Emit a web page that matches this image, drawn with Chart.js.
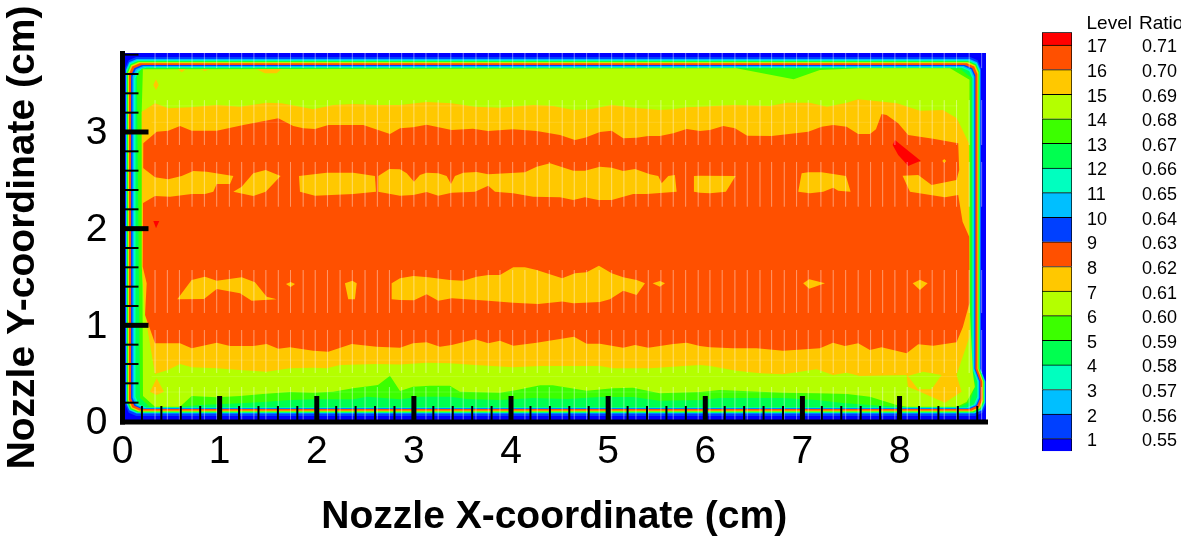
<!DOCTYPE html>
<html><head><meta charset="utf-8">
<style>html,body{margin:0;padding:0;background:#fff;overflow:hidden}canvas{position:absolute;display:block}</style>
<script src="https://cdn.jsdelivr.net/npm/chart.js@4"></script></head>
<body>
<canvas id="main" width="1181" height="538" style="left:0;top:0"></canvas>
<canvas id="key" width="139" height="480" style="left:1042px;top:0"></canvas>
<script>
// ---------- axis data ----------
const xMajorTicks=[0,1,2,3,4,5,6,7,8];
const yMajorTicks=[0,1,2,3];
const xMinorTicks=[0.2,0.4,0.6,0.8,1.2,1.4,1.6,1.8,2.2,2.4,2.6,2.8,3.2,3.4,3.6,3.8,4.2,4.4,4.6,4.8,5.2,5.4,5.6,5.8,6.2,6.4,6.6,6.8,7.2,7.4,7.6,7.8,8.2,8.4,8.6,8.8];
const yMinorTicks=[0.2,0.4,0.6,0.8,1.2,1.4,1.6,1.8,2.2,2.4,2.6,2.8,3.2,3.4,3.6,3.8];
const xMax=8.89, yMax=3.817;
// ---------- legend data ----------
const levelNumbers=[1,2,3,4,5,6,7,8,9,10,11,12,13,14,15,16,17];
const levelRatios=[0.55,0.56,0.57,0.58,0.59,0.60,0.61,0.62,0.63,0.64,0.65,0.66,0.67,0.68,0.69,0.70,0.71];
const keyColours=['#0000ff','#0040ff','#00bfff','#00ffbf','#00ff50','#3cff00','#b4ff00','#ffc800','#ff5000','#0040ff','#00bfff','#00ffbf','#00ff50','#3cff00','#b4ff00','#ffc800','#ff5000','#ff0000'];
// ---------- wall rings (cm): outer to inner contour levels ----------
const ringColours=['#0040ff','#00bfff','#00ffbf','#00ff50','#3cff00','#b4ff00','#ffc800','#ff5000','#0040ff','#00bfff','#00ffbf','#00ff50'];
const ringLeft=[.031,.036,.041,.046,.051,.057,.062,.067,.088,.103,.118,.134];
const ringRight=[8.837,8.832,8.827,8.822,8.817,8.812,8.807,8.801,8.781,8.771,8.761,8.75];
const ringBottom=[.062,.088,.093,.098,.103,.109,.114,.119,.134,.14,.145,.15];
const ringTop=[3.776,3.755,3.745,3.734,3.729,3.724,3.717,3.71,3.693,3.683,3.672,3.665];
// ---------- contour bands (cm) ----------
const greenBand=[[.149,3.589],[.2,3.657],[8.62,3.657],[8.74,3.558],[8.74,.507],[8.78,.383],[8.724,.207],[8.62,.155],[8,.155],[7.695,.176],[7.417,.197],[7.15,.228],[6.8,.248],[6.15,.248],[5.945,.228],[5.53,.22],[5.255,.259],[4.915,.259],[4.576,.238],[4.226,.248],[3.886,.228],[3.546,.238],[3.37,.262],[3.06,.262],[2.857,.235],[2.517,.262],[2.373,.235],[1.96,.235],[1.724,.228],[1.488,.21],[1.21,.193],[.798,.176],[.592,.155],[.283,.155],[.18,.248]];
const limeBand=[[.21,3.65],[6.32,3.66],[6.91,3.545],[7.18,3.64],[7.59,3.66],[8.52,3.66],[8.72,3.54],[8.72,1.23],[8.755,.507],[8.775,.362],[8.69,.207],[8.59,.158],[8.08,.158],[7.97,.176],[7.695,.262],[7.46,.29],[7.15,.297],[6.8,.303],[6.33,.324],[6.15,.331],[5.945,.31],[5.53,.297],[5.255,.355],[5.05,.349],[4.78,.324],[4.43,.38],[4.3,.38],[4.06,.331],[3.886,.303],[3.474,.313],[3.37,.375],[3.165,.375],[2.99,.365],[2.857,.32],[2.754,.479],[2.63,.383],[2.373,.349],[2.167,.313],[1.96,.303],[1.724,.31],[1.446,.29],[1.21,.269],[.97,.256],[.712,.269],[.592,.158],[.335,.158],[.211,.269],[.198,3.227]];
const yellowBand=[[.198,3.21],[.335,3.297],[.471,3.245],[.695,3.255],[.97,3.279],[1.21,3.262],[1.484,3.303],[1.639,3.297],[1.964,3.235],[2.17,3.279],[2.376,3.289],[2.617,3.279],[2.857,3.279],[3.131,3.31],[3.389,3.297],[3.629,3.262],[3.886,3.251],[4.229,3.279],[4.432,3.269],[4.641,3.227],[4.812,3.235],[5.036,3.279],[5.258,3.251],[5.533,3.227],[5.67,3.235],[5.808,3.255],[5.945,3.262],[6.285,3.279],[6.665,3.269],[6.84,3.303],[7.077,3.303],[7.252,3.262],[7.458,3.303],[7.571,3.338],[7.973,3.297],[8.21,3.22],[8.446,3.227],[8.59,3.141],[8.714,2.883],[8.72,1.231],[8.72,.882],[8.587,.486],[8.639,.313],[8.467,.2],[8.21,.313],[8.086,.365],[8.073,.486],[7.592,.476],[7.455,.51],[7.314,.486],[7.146,.545],[6.8,.493],[6.563,.504],[6.323,.531],[6.048,.579],[5.945,.59],[5.667,.572],[5.43,.555],[5.049,.555],[4.915,.579],[4.298,.579],[4.02,.566],[3.629,.59],[3.371,.607],[3.131,.613],[2.857,.595],[2.617,.6],[2.239,.59],[2.102,.555],[1.961,.562],[1.724,.555],[1.484,.52],[1.21,.538],[.97,.555],[.712,.566],[.592,.6],[.468,.538],[.335,.497],[.232,1.107],[.198,1.606]];
const orangeBand=[[.214,2.883],[.352,3.003],[.471,3.013],[.592,3.062],[.712,3.013],[.97,3.013],[1.089,3.038],[1.244,3.072],[1.604,3.141],[1.758,3.062],[1.861,3.038],[1.982,3.031],[2.119,3.072],[2.479,3.072],[2.754,2.979],[2.857,3.038],[2.99,3.048],[3.131,3.075],[3.389,3.02],[3.608,3.034],[3.763,3.01],[4.02,3.028],[4.264,3.01],[4.504,2.969],[4.658,2.917],[4.761,2.941],[4.915,3],[5.036,3.013],[5.155,2.935],[5.293,2.941],[5.413,2.958],[5.533,2.958],[5.67,2.986],[5.808,3.031],[5.945,3.01],[6.048,3.02],[6.185,3.062],[6.305,3.038],[6.432,2.962],[6.683,2.958],[7.06,3.003],[7.197,3.055],[7.317,3.072],[7.455,3.055],[7.574,2.979],[7.695,2.979],[7.757,3.028],[7.815,3.186],[7.867,3.176],[7.986,3.09],[8.089,2.969],[8.346,2.93],[8.604,2.883],[8.614,2.607],[8.587,2.503],[8.33,2.452],[8.192,2.555],[8.031,2.548],[8.107,2.382],[8.467,2.324],[8.604,2.348],[8.649,2.072],[8.717,1.917],[8.72,1.231],[8.652,.983],[8.587,.824],[8.346,.789],[8.192,.804],[8.073,.711],[7.815,.773],[7.695,.745],[7.574,.814],[7.437,.786],[7.314,.82],[7.18,.762],[6.802,.738],[6.528,.762],[6.285,.762],[6.048,.773],[5.945,.786],[5.808,.82],[5.67,.807],[5.413,.769],[5.276,.796],[5.155,.769],[4.915,.81],[4.778,.81],[4.648,.882],[4.504,.859],[4.264,.82],[4.023,.789],[3.886,.841],[3.766,.814],[3.629,.855],[3.389,.796],[3.268,.779],[3.131,.824],[2.99,.814],[2.857,.769],[2.617,.779],[2.359,.807],[2.119,.727],[1.964,.738],[1.724,.773],[1.604,.758],[1.484,.807],[1.346,.786],[1.107,.786],[.97,.82],[.712,.762],[.592,.814],[.335,.814],[.232,1.107],[.249,1.435],[.208,1.606]];
// islands of the yellow level
const yellowIslands=[
[[.208,2.63],[.335,2.531],[.471,2.51],[.609,2.545],[.729,2.596],[.867,2.589],[1.141,2.545],[1.107,2.462],[.97,2.462],[.935,2.382],[.849,2.358],[.712,2.358],[.489,2.331],[.335,2.338],[.208,2.262]],
[[1.141,2.382],[1.227,2.434],[1.346,2.573],[1.474,2.607],[1.628,2.545],[1.474,2.382],[1.346,2.338]],
[[1.817,2.545],[2.102,2.579],[2.376,2.579],[2.599,2.545],[2.61,2.382],[2.376,2.358],[1.982,2.341],[1.827,2.382]],
[[2.633,2.545],[2.746,2.617],[2.857,2.614],[2.926,2.573],[3.001,2.486],[3.062,2.555],[3.131,2.579],[3.251,2.573],[3.337,2.545],[3.382,2.462],[3.423,2.545],[3.508,2.579],[3.646,2.586],[3.766,2.562],[4.143,2.583],[4.264,2.641],[4.401,2.676],[4.641,2.6],[4.761,2.6],[4.915,2.641],[5.036,2.63],[5.155,2.596],[5.276,2.617],[5.43,2.562],[5.516,2.545],[5.551,2.469],[5.619,2.545],[5.687,2.555],[5.705,2.382],[5.396,2.358],[5.258,2.358],[5.036,2.296],[4.898,2.296],[4.761,2.324],[4.641,2.296],[4.504,2.324],[4.229,2.331],[4.023,2.366],[3.835,2.382],[3.766,2.444],[3.629,2.382],[3.389,2.372],[3.251,2.341],[3.131,2.379],[2.994,2.348],[2.857,2.341],[2.633,2.382]],
[[5.883,2.545],[5.945,2.548],[6.312,2.545],[6.212,2.382],[6.048,2.366],[5.945,2.372],[5.883,2.382]],
[[6.992,2.573],[7.06,2.583],[7.197,2.583],[7.448,2.545],[7.496,2.382],[7.369,2.393],[7.317,2.424],[7.214,2.382],[7.077,2.366],[6.957,2.382]],
[[.564,1.269],[.712,1.469],[.849,1.503],[.97,1.462],[1.227,1.497],[1.364,1.445],[1.484,1.296],[1.587,1.269],[1.33,1.255],[1.21,1.331],[.97,1.376],[.839,1.272]],
[[1.683,1.427],[1.731,1.448],[1.776,1.427],[1.731,1.396]],
[[2.29,1.435],[2.366,1.462],[2.411,1.435],[2.393,1.269],[2.324,1.269]],
[[2.771,1.435],[2.857,1.486],[2.994,1.51],[3.148,1.497],[3.371,1.469],[3.508,1.462],[3.646,1.503],[3.766,1.521],[3.886,1.521],[4.023,1.6],[4.143,1.6],[4.264,1.572],[4.527,1.486],[4.658,1.538],[4.778,1.549],[4.905,1.617],[5.036,1.538],[5.155,1.497],[5.293,1.469],[5.379,1.435],[5.293,1.314],[5.155,1.358],[5.018,1.269],[4.915,1.241],[4.641,1.228],[4.527,1.247],[4.28,1.221],[4.023,1.234],[3.766,1.255],[3.389,1.28],[3.251,1.255],[3.131,1.321],[3.001,1.259],[2.857,1.262],[2.771,1.269]],
[[5.458,1.435],[5.533,1.459],[5.585,1.435],[5.533,1.4]],
[[7.008,1.435],[7.07,1.476],[7.232,1.435],[7.07,1.379]],
[[8.135,1.435],[8.21,1.472],[8.289,1.435],[8.21,1.365]],
[[.317,3.486],[.345,3.545],[.373,3.486],[.345,3.434]],
[[.568,3.648],[.609,3.617],[.651,3.648]],
[[.798,3.648],[.849,3.631],[.901,3.648]],
[[1.374,3.651],[1.467,3.607],[1.587,3.607],[1.639,3.651]],
[[.283,.313],[.352,.452],[.427,.313],[.352,.279]],
[[8.44,2.7],[8.46,2.72],[8.48,2.7],[8.46,2.68]]
];
const limeIsland=[[8.086,.476],[8.24,.52],[8.433,.486],[8.33,.338],[8.19,.338]];
const redIslands=[
[[7.929,2.865],[7.952,2.917],[8.217,2.703],[8.089,2.648],[7.986,2.762]],
[[.317,2.079],[.379,2.079],[.345,2.004]]
];
// faint seams of the plotting mesh
const meshX=[.335,.462,.586,.716,.843,.97,1.1,1.227,1.353,1.476,1.604,1.73,1.86,1.984,2.11,2.24,2.366,2.497,2.624,2.748,2.874,3,3.124,3.25,3.38,3.508,3.639,3.766,3.886,4.017,4.143,4.27,4.394,4.527,4.651,4.778,4.908,5.036,5.162,5.286,5.413,5.543,5.67,5.798,5.927,6.048,6.174,6.305,6.432,6.563,6.683,6.813,6.94,7.06,7.19,7.317,7.445,7.574,7.702,7.826,7.952,8.079,8.21,8.336,8.46,8.587,8.717,8.845];
const seamRows=[[3.817,3.66],[3.33,2.865],[2.69,2.227],[1.572,1.128],[.952,.507],[.362,.02]];
const seamLevels=[.64,.47,.31,3.27,3.1];

// ---------- drawing ----------
Chart.defaults.font.family='"Liberation Sans",Arial,sans-serif';
Chart.defaults.color='#000';
function ringPolygon(i){
  const l=ringLeft[i],r=ringRight[i],b=ringBottom[i],t=ringTop[i],c=.11,d=.05;
  return [[l,t-c],[l+c*.3,t-c*.3],[l+c,t],[r-c,t],[r-c*.3,t-c*.3],[r,t-c],[r,.55],[r+d,.42],[r+d,b+c],[r+d-c*.3,b+c*.3],[r+d-c,b],[l+c,b],[l+c*.3,b+c*.3],[l,b+c]];
}
const layers=[{p:[[0,0],[xMax,0],[xMax,yMax],[0,yMax]],c:'#0000ff'}];
ringColours.forEach((c,i)=>layers.push({p:ringPolygon(i),c}));
layers.push({p:greenBand,c:'#3cff00'},{p:limeBand,c:'#b4ff00'},{p:yellowBand,c:'#ffc800'},{p:orangeBand,c:'#ff5000'});
yellowIslands.forEach(p=>layers.push({p,c:'#ffc800'}));
layers.push({p:limeIsland,c:'#b4ff00'});
redIslands.forEach(p=>layers.push({p,c:'#ff0000'}));

const n=layers.length;
const datasets=layers.map((l,i)=>({
  type:'scatter',showLine:true,order:n-i+1,
  data:l.p.concat([l.p[0]]).map(([x,y])=>({x,y})),
  backgroundColor:l.c,borderColor:l.c,borderWidth:0,pointRadius:0,fill:'shape',tension:0
}));
const seamData=[];
meshX.forEach(x=>seamRows.forEach(([a,b])=>{seamData.push({x,y:a},{x,y:b},{x,y:null});}));
datasets.push({type:'scatter',showLine:true,order:0,data:seamData,borderColor:'rgba(255,255,255,.17)',borderWidth:1,pointRadius:0,fill:false,spanGaps:false});
const levelData=[];
seamLevels.forEach(y=>{levelData.push({x:.3,y},{x:8.6,y},{x:.3,y:null});});
datasets.push({type:'scatter',showLine:true,order:0,data:levelData,borderColor:'rgba(255,255,255,.13)',borderWidth:1,pointRadius:0,fill:false,spanGaps:false});

const axesInk={id:'axesInk',afterDraw(c){
  const X=c.scales.x,Y=c.scales.y,g=c.ctx,a=c.chartArea;
  g.save();g.strokeStyle='#000';
  const seg=(x1,y1,x2,y2,w)=>{g.lineWidth=w;g.beginPath();g.moveTo(x1,y1);g.lineTo(x2,y2);g.stroke();};
  xMinorTicks.forEach(v=>{const p=X.getPixelForValue(v);seg(p,a.bottom,p,a.bottom-16,2);});
  yMinorTicks.forEach(v=>{const p=Y.getPixelForValue(v);seg(a.left,p,a.left+16,p,2);});
  xMajorTicks.slice(1).forEach(v=>{const p=X.getPixelForValue(v);seg(p,a.bottom,p,a.bottom-26,5);});
  yMajorTicks.slice(1).forEach(v=>{const p=Y.getPixelForValue(v);seg(a.left,p,a.left+26,p,5);});
  seg(a.left,a.bottom+2.5,a.left,a.top-2,5);
  seg(a.left-2.5,a.bottom,a.right+2,a.bottom,5);
  g.restore();
}};
new Chart(document.getElementById('main'),{
  data:{datasets},
  plugins:[axesInk],
  options:{
    responsive:false,animation:false,events:[],
    layout:{padding:{left:0,top:53,right:195,bottom:0}},
    plugins:{legend:{display:false},tooltip:{enabled:false},title:{display:false}},
    scales:{
      x:{type:'linear',min:0,max:xMax,
        afterBuildTicks:s=>{s.ticks=xMajorTicks.map(value=>({value}));},
        afterFit:s=>{s.height=116;},
        grid:{display:false,drawTicks:false},border:{display:false},
        ticks:{font:{size:39},padding:7,maxRotation:0,autoSkip:false,callback:v=>String(v)},
        title:{display:true,text:'Nozzle X-coordinate (cm)',font:{size:39,weight:'bold',lineHeight:1},padding:{top:0,bottom:1.5}}},
      y:{type:'linear',min:0,max:yMax,
        afterBuildTicks:s=>{s.ticks=yMajorTicks.map(value=>({value}));},
        afterFit:s=>{s.width=122.5;},
        grid:{display:false,drawTicks:false},border:{display:false},
        ticks:{font:{size:39},padding:15,labelOffset:1.5,autoSkip:false,callback:v=>String(v)},
        title:{display:true,text:'Nozzle Y-coordinate (cm)',font:{size:39,weight:'bold',lineHeight:1},padding:{top:3.5,bottom:0}}}
    }
  }
});

// ---------- colour key ----------
const keyEdges=[.488].concat(levelNumbers,[17.516]);
const keyHead={id:'keyHead',afterDraw(c){
  const g=c.ctx;g.save();g.fillStyle='#000';g.font='19px "Liberation Sans",Arial,sans-serif';
  g.textBaseline='alphabetic';g.textAlign='left';
  g.fillText('Level',44.5,29);g.fillText('Ratio',97,29);g.restore();
}};
new Chart(document.getElementById('key'),{
  type:'bar',
  data:{labels:['key'],datasets:keyColours.map((c,i)=>({
    data:[[keyEdges[i],keyEdges[i+1]]],backgroundColor:c,borderColor:'#000',borderWidth:1,
    barPercentage:1,categoryPercentage:1,grouped:false,yAxisID:'level',xAxisID:'x'
  }))},
  plugins:[keyHead],
  options:{
    responsive:false,animation:false,events:[],
    layout:{padding:{left:0,top:32.3,right:0,bottom:28.7}},
    plugins:{legend:{display:false},tooltip:{enabled:false}},
    scales:{
      x:{display:false},
      level:{type:'linear',position:'right',min:.488,max:17.516,
        afterBuildTicks:s=>{s.ticks=levelNumbers.map(value=>({value}));},
        afterFit:s=>{s.width=55;s.paddingTop=0;s.paddingBottom=0;},
        grid:{display:false,drawTicks:false},border:{display:false},
        ticks:{font:{size:18},padding:15,crossAlign:'near',labelOffset:2.5,autoSkip:false,callback:v=>String(v)}},
      ratio:{type:'linear',position:'right',min:.54488,max:.71516,
        afterBuildTicks:s=>{s.ticks=levelRatios.map(value=>({value}));},
        afterFit:s=>{s.width=54;s.paddingTop=0;s.paddingBottom=0;},
        grid:{display:false,drawTicks:false},border:{display:false},
        ticks:{font:{size:18},padding:15,labelOffset:2.5,autoSkip:false,callback:v=>v.toFixed(2)}}
    }
  }
});
</script>
</body></html>
